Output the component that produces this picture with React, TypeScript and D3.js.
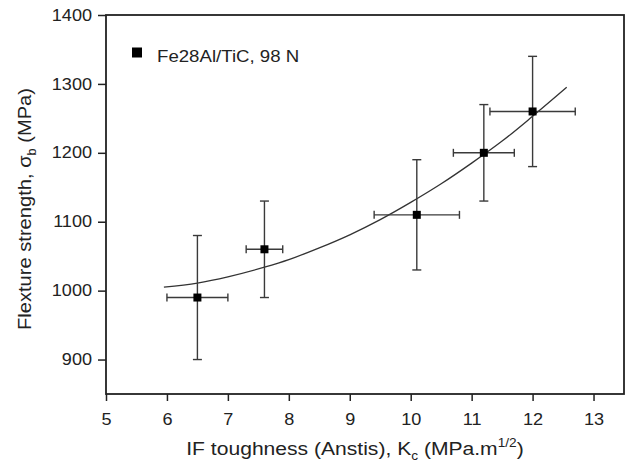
import React, { useEffect, useRef } from 'react'
import * as d3 from 'd3'

// measured points: toughness Kc, strength, x error range, y error range
const kc = [6.5, 7.6, 10.1, 11.2, 12.0]
const strength = [990, 1060, 1110, 1200, 1260]
const kcLow = [6.0, 7.3, 9.4, 10.7, 11.3]
const kcHigh = [7.0, 7.9, 10.8, 11.7, 12.7]
const sLow = [900, 990, 1030, 1130, 1180]
const sHigh = [1080, 1130, 1190, 1270, 1340]

// fitted curve
const fitX = [5.95, 6.5, 7, 7.6, 8, 8.5, 9, 9.5, 10, 10.5, 11, 11.5, 12, 12.56]
const fitY = [1005, 1011, 1020, 1034, 1045, 1062, 1081, 1103, 1128, 1155, 1185, 1217, 1253, 1295]

const xTicks = [5, 6, 7, 8, 9, 10, 11, 12, 13]
const yTicks = [900, 1000, 1100, 1200, 1300, 1400]

const W = 626, H = 464
const margin = { top: 15, right: 2, bottom: 70, left: 106 }
const FONT = "Arial, 'Liberation Sans', Helvetica, sans-serif"
const SX = 1.13 // the source type is a bit wider than Arial

export default function App() {
    const ref = useRef<SVGSVGElement>(null)

    useEffect(() => {
        const svg = d3.select(ref.current)
        svg.selectAll('*').remove()

        const x = d3.scaleLinear().domain([5, 13.5]).range([margin.left, W - margin.right])
        const y = d3.scaleLinear().domain([850, 1400]).range([H - margin.bottom, margin.top])

        const ink = '#222'

        // x axis: minor + major ticks
        const gx = svg.append('g').attr('transform', `translate(0,${H - margin.bottom})`)
        gx.call(d3.axisBottom(x).tickValues(d3.range(5.5, 13.5, 1)).tickSize(4).tickFormat(() => ''))
        gx.call(d3.axisBottom(x).tickValues(xTicks).tickSize(7).tickPadding(13).tickFormat(d3.format('d')))
        gx.selectAll('.domain').remove()
        gx.selectAll('line').attr('stroke', ink).attr('stroke-width', 1.5)
        gx.selectAll('text').attr('font-size', 16).attr('font-family', FONT).attr('fill', '#222')
            .attr('transform', `scale(${SX},1)`)

        const gy = svg.append('g').attr('transform', `translate(${margin.left},0)`)
        gy.call(d3.axisLeft(y).tickValues(d3.range(850, 1401, 100).concat([1350])).tickSize(4).tickFormat(() => ''))
        gy.call(d3.axisLeft(y).tickValues(yTicks).tickSize(8).tickPadding(6).tickFormat(d3.format('d')))
        gy.selectAll('.domain').remove()
        gy.selectAll('line').attr('stroke', ink).attr('stroke-width', 1.5)
        gy.selectAll('text').attr('font-size', 16).attr('font-family', FONT).attr('fill', '#222')
            .attr('x', -14 / SX).attr('transform', `scale(${SX},1)`)

        // frame
        svg.append('rect')
            .attr('x', margin.left).attr('y', margin.top)
            .attr('width', W - margin.left - margin.right)
            .attr('height', H - margin.top - margin.bottom)
            .attr('fill', 'none').attr('stroke', ink).attr('stroke-width', 1.8)

        // fit curve
        const line = d3.line<number>()
            .x((_, i) => x(fitX[i]))
            .y(d => y(d))
            .curve(d3.curveMonotoneX)
        svg.append('path')
            .attr('d', line(fitY))
            .attr('fill', 'none').attr('stroke', '#333').attr('stroke-width', 1.3)

        // error bars
        const err = svg.append('g').attr('stroke', '#3a3a3a').attr('stroke-width', 1.4)
        kc.forEach((k, i) => {
            const cx = x(k), cy = y(strength[i])
            err.append('line').attr('x1', cx).attr('x2', cx).attr('y1', y(sLow[i])).attr('y2', y(sHigh[i]))
            err.append('line').attr('x1', cx - 4.5).attr('x2', cx + 4.5).attr('y1', y(sLow[i])).attr('y2', y(sLow[i]))
            err.append('line').attr('x1', cx - 4.5).attr('x2', cx + 4.5).attr('y1', y(sHigh[i])).attr('y2', y(sHigh[i]))
            err.append('line').attr('x1', x(kcLow[i])).attr('x2', x(kcHigh[i])).attr('y1', cy).attr('y2', cy)
            err.append('line').attr('x1', x(kcLow[i])).attr('x2', x(kcLow[i])).attr('y1', cy - 4).attr('y2', cy + 4)
            err.append('line').attr('x1', x(kcHigh[i])).attr('x2', x(kcHigh[i])).attr('y1', cy - 4).attr('y2', cy + 4)
        })

        svg.append('g').selectAll('rect')
            .data(kc)
            .join('rect')
            .attr('x', d => x(d) - 4)
            .attr('y', (_, i) => y(strength[i]) - 4)
            .attr('width', 8).attr('height', 8)
            .attr('fill', '#000')

        // legend
        svg.append('rect').attr('x', 132).attr('y', 47.5).attr('width', 10).attr('height', 10).attr('fill', '#000')
        svg.append('text').attr('transform', `translate(157,61.5) scale(${SX},1)`)
            .attr('font-size', 16.5).attr('font-family', FONT).attr('fill', '#222')
            .text('Fe28Al/TiC, 98 N')

        // axis titles
        const xt = svg.append('text').attr('transform', `translate(355,455) scale(1.14,1)`).attr('text-anchor', 'middle')
            .attr('font-size', 18.5).attr('font-family', FONT).attr('fill', '#222')
        xt.append('tspan').text('IF toughness (Anstis), K')
        xt.append('tspan').attr('font-size', 12).attr('dy', 5).text('c')
        xt.append('tspan').attr('dy', -5).text(' (MPa.m')
        xt.append('tspan').attr('font-size', 12).attr('dy', -8).text('1/2')
        xt.append('tspan').attr('dy', 8).text(')')

        const yt = svg.append('text').attr('transform', 'translate(31,209) rotate(-90) scale(1.06,1)').attr('text-anchor', 'middle')
            .attr('font-size', 19).attr('font-family', FONT).attr('fill', '#222')
        yt.append('tspan').text('Flexture strength, σ')
        yt.append('tspan').attr('font-size', 12).attr('dy', 5).text('b')
        yt.append('tspan').attr('dy', -5).text(' (MPa)')
    }, [])

    return (
        <svg ref={ref} width={W} height={H}
            style={{ position: 'absolute', left: 0, top: 0, background: '#fff' }} />
    )
}
